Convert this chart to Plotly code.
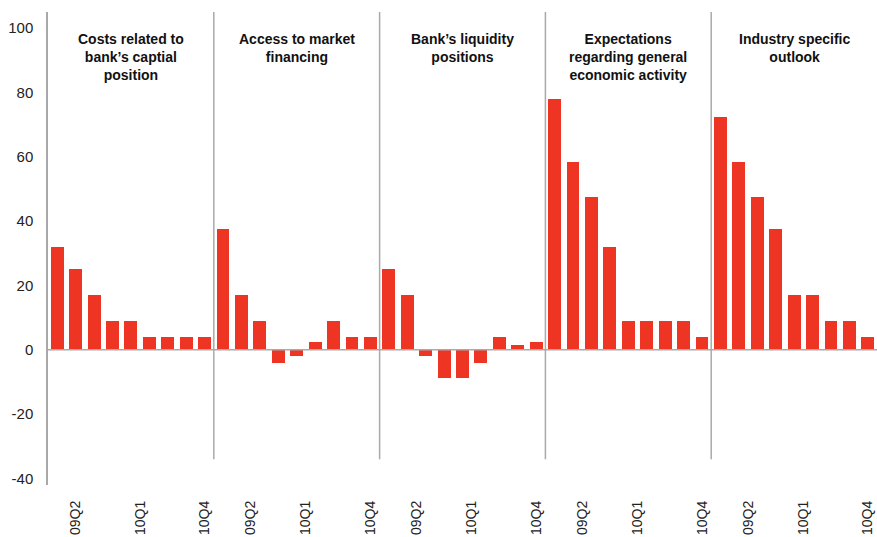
import plotly.graph_objects as go

quarters = ["08Q4", "09Q1", "09Q2", "09Q3", "09Q4", "10Q1", "10Q2", "10Q3", "10Q4"]

panel_titles = [
    "Costs related to<br>bank’s captial<br>position",
    "Access to market<br>financing",
    "Bank’s liquidity<br>positions",
    "Expectations<br>regarding general<br>economic activity",
    "Industry specific<br>outlook",
]

capital_costs = [32, 25, 17, 9, 9, 4, 4, 4, 4]
market_financing = [37.6, 17, 9, -4.1, -1.8, 2.5, 9, 4, 4]
liquidity = [25, 17, -1.8, -8.8, -8.8, -4.2, 4, 1.6, 2.5]
economic_activity = [78, 58.5, 47.5, 32, 9, 9, 9, 9, 4]
industry_outlook = [72.5, 58.5, 47.5, 37.6, 17, 17, 9, 9, 4]

tick_labels = ["09Q2", "10Q1", "10Q4"]
y_ticks = [-40, -20, 0, 20, 40, 60, 80, 100]

series = [capital_costs, market_financing, liquidity, economic_activity, industry_outlook]
n = len(quarters)

BAR_COLOR = "#ee3524"
LINE_COLOR = "#a9a9a9"
FONT = "Liberation Sans, Arial, sans-serif"

fig = go.Figure()

xs, ys = [], []
for p, vals in enumerate(series):
    for i, v in enumerate(vals):
        xs.append(p * n + i)
        ys.append(v)

fig.add_trace(go.Bar(
    x=xs, y=ys, width=0.7,
    marker=dict(color=BAR_COLOR, line=dict(width=0)),
    showlegend=False,
    customdata=[quarters[i % n] for i in range(len(xs))],
    hovertemplate="%{customdata}: %{y}<extra></extra>",
))

# tick positions within each panel (labels sit a little off the bars in the original)
tick_offsets = [1.5, 4.5, 8.0]
tickvals, ticktext = [], []
for p in range(len(series)):
    for k, lab in enumerate(tick_labels):
        off = tick_offsets[k]
        if p == 0 and k == 0:
            off = 1.0
        tickvals.append(p * n + off)
        ticktext.append(lab)

# panel dividers
for p in range(1, len(series)):
    fig.add_shape(type="line", xref="x", yref="y",
                  x0=p * n - 0.5, x1=p * n - 0.5, y0=-34, y1=105,
                  line=dict(color=LINE_COLOR, width=1.5))

# zero line
fig.add_shape(type="line", xref="paper", yref="y", x0=0, x1=1, y0=0, y1=0,
              line=dict(color=LINE_COLOR, width=1.5))

for p, title in enumerate(panel_titles):
    fig.add_annotation(x=p * n + (n - 1) / 2, y=0.965, xref="x", yref="paper",
                       text=f"<b>{title}</b>", showarrow=False,
                       xanchor="center", yanchor="top", align="center",
                       font=dict(family=FONT, size=14, color="#111111"))

fig.update_layout(
    width=877, height=537,
    paper_bgcolor="white", plot_bgcolor="white",
    margin=dict(l=48, r=0, t=12, b=52),
    font=dict(family=FONT, size=14, color="#222222"),
    bargap=0,
    xaxis=dict(
        range=[-0.5, len(series) * n - 0.5],
        tickmode="array", tickvals=tickvals, ticktext=ticktext,
        tickangle=-90, showgrid=False, zeroline=False, showline=False,
        ticks="", ticklabelstandoff=12, automargin=False,
        tickfont=dict(family=FONT, size=14, color="#222222"),
    ),
    yaxis=dict(
        range=[-42, 105],
        tickmode="array", tickvals=y_ticks, ticktext=[str(v) for v in y_ticks],
        showgrid=False, zeroline=False,
        showline=True, linecolor=LINE_COLOR, linewidth=1.5,
        ticks="", ticklabelstandoff=10, automargin=False,
        tickfont=dict(family=FONT, size=15, color="#222222"),
    ),
)

fig.write_html("out.html", config={"displayModeBar": False},
               post_script="document.body.style.margin='0';")
